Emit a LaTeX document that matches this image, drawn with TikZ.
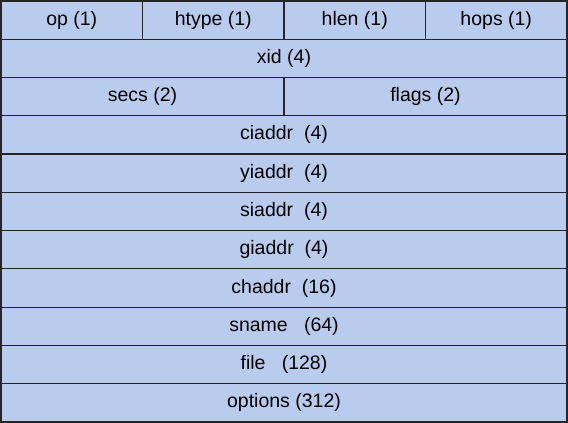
\documentclass[tikz,border=0pt]{standalone}
\usepackage{fontspec}
\setmainfont{Liberation Sans}
\definecolor{fieldblue}{HTML}{B9CCEE}
\newcommand{\fieldfont}{\fontsize{19.5}{22}\selectfont}

\begin{document}
\begin{tikzpicture}[x=1pt, y=1pt,
field/.style={rectangle, draw=black!85, fill=fieldblue, line width=1.2pt, anchor=north west, inner sep=0pt, outer sep=0pt, minimum height=38.27pt, font=\fieldfont},
quarter/.style={field, minimum width=141.5pt},
half/.style={field, minimum width=283pt},
whole/.style={field, minimum width=566pt},
]
\useasboundingbox (0,0) rectangle (568,-423);
% first row: four one-byte fields
\node[quarter] (op) at (1,-1) {op (1)};
\node[quarter] (htype) at (op.north east) {htype (1)};
\node[quarter] (hlen) at (htype.north east) {hlen (1)};
\node[quarter] (hops) at (hlen.north east) {hops (1)};
\node[whole] (xid) at (op.south west) {xid (4)};
\node[half] (secs) at (xid.south west) {secs (2)};
\node[half] (flags) at (secs.north east) {flags (2)};
% remaining full-width fields
\foreach \name/\text [remember=\name as \prev (initially secs)] in
  {ciaddr/{ciaddr\ \ (4)}, yiaddr/{yiaddr\ \ (4)}, siaddr/{siaddr\ \ (4)},
   giaddr/{giaddr\ \ (4)}, chaddr/{chaddr\ \ (16)}, sname/{sname\ \ \ (64)},
   file/{file\ \ \ (128)}, options/{options (312)}}
  \node[whole] (\name) at (\prev.south west) {\text};
\end{tikzpicture}
\end{document}
